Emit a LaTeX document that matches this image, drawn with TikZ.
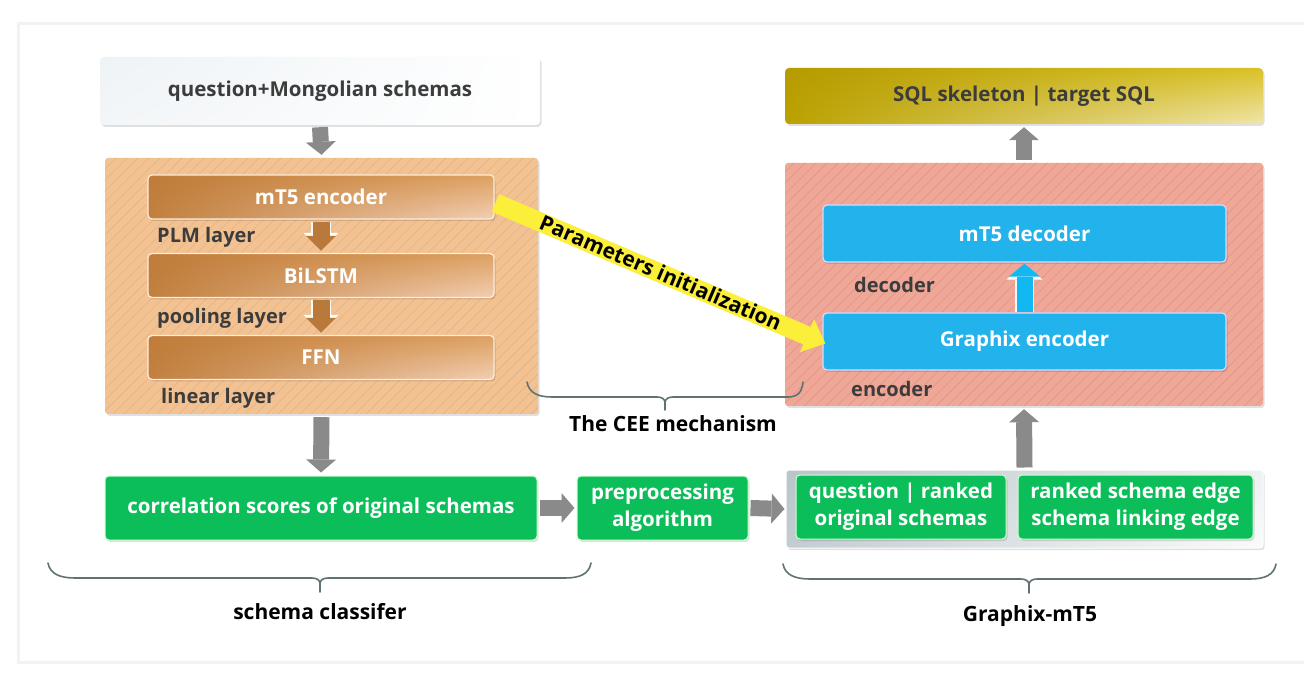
\documentclass[tikz,border=0pt]{standalone}
\usepackage{fontspec}
\setmainfont{Open Sans}
\usetikzlibrary{arrows.meta,shadows,shadings}
\definecolor{orangeC}{HTML}{F2C293}
\definecolor{orangeS}{HTML}{E7B27E}
\definecolor{salmonC}{HTML}{EFA797}
\definecolor{salmonS}{HTML}{E49686}
\definecolor{blueC}{HTML}{22B2EC}
\definecolor{blueA}{HTML}{12B8F2}
\definecolor{greenC}{HTML}{0BBE5A}
\definecolor{grayA}{HTML}{8A8A8A}
\definecolor{brownA}{HTML}{B8793A}
\definecolor{darkT}{HTML}{3C3C3C}
\definecolor{braceC}{HTML}{5F7373}
\definecolor{yelC}{HTML}{FCEF3A}
\definecolor{inUL}{HTML}{EEF3F6}
\definecolor{inLL}{HTML}{F3F6F8}
\definecolor{brUL}{HTML}{BF7B39}
\definecolor{brLL}{HTML}{C1803F}
\definecolor{brUR}{HTML}{DDA060}
\definecolor{brLR}{HTML}{F2CFB4}
\definecolor{sqUL}{HTML}{B59B00}
\definecolor{sqLL}{HTML}{BBA200}
\definecolor{sqUR}{HTML}{D9C125}
\definecolor{sqLR}{HTML}{F0E5AA}
\definecolor{gcUL}{HTML}{B9C5C9}
\definecolor{gcLL}{HTML}{C3CDD1}
\definecolor{gcUR}{HTML}{EEF1F2}
\definecolor{gcLR}{HTML}{FAFBFB}
\tikzset{
  boxfont/.style={font=\bfseries\fontsize{20.5}{27}\selectfont},
  capfont/.style={font=\bfseries\fontsize{21}{25}\selectfont},
  shad/.style={drop shadow={shadow xshift=1.5pt,shadow yshift=-2pt,opacity=0.12,fill=black}},
  basebox/.style={rectangle,rounded corners=4pt,inner sep=0pt,align=center,boxfont,shad},
  inbox/.style={basebox,shade,upper left=inUL,upper right=white,lower left=inLL,lower right=white,text=darkT,minimum width=440pt,minimum height=68pt},
  brownbox/.style={basebox,shade,upper left=brUL,lower left=brLL,upper right=brUR,lower right=brLR,draw=white!85!orange,line width=1.2pt,text=white,minimum width=346pt,minimum height=44pt},
  bluebox/.style={basebox,fill=blueC,draw=white!85!blue,line width=1.2pt,text=white,minimum width=403pt,minimum height=57pt},
  greenbox/.style={basebox,fill=greenC,draw=white!80!green,line width=1pt,text=white,minimum height=64pt},
  sqlbox/.style={basebox,shade,upper left=sqUL,lower left=sqLL,upper right=sqUR,lower right=sqLR,text=darkT,minimum width=478pt,minimum height=56pt},
  hatchbox/.style={rectangle,rounded corners=3pt,inner sep=0pt,shad,fill=#1C,
    path picture={\foreach \k in {0,11,...,800}{\draw[#1S,line width=0.7pt] ([xshift=\k pt-300pt]path picture bounding box.south west) -- ++(300pt,300pt);}}},
  graycont/.style={rectangle,rounded corners=3pt,inner sep=0pt,shad,shade,upper left=gcUL,lower left=gcLL,upper right=gcUR,lower right=gcLR,draw=white,line width=1pt},
  lbl/.style={font=\bfseries\fontsize{20}{24}\selectfont,text=darkT,inner sep=0pt,anchor=west},
  captxt/.style={capfont,text=black,inner sep=0pt},
  outl/.style n args={3}{preaction={draw=white,draw opacity=0.9,line width=#1,-{Triangle[width=#2,length=#3,line width=0pt]}}},
  grayarrow/.style={outl={19pt}{35pt}{16pt},draw=grayA,line width=16pt,-{Triangle[width=30pt,length=13pt,line width=0pt]}},
  brownarrow/.style={outl={20pt}{35pt}{18pt},draw=brownA,line width=17pt,-{Triangle[width=30pt,length=15pt,line width=0pt]}},
  bluearrow/.style={outl={19pt}{36pt}{16pt},draw=blueA,line width=16pt,-{Triangle[width=31pt,length=13pt,line width=0pt]}},
  yelarrow/.style={draw=yelC,line width=19pt,-{Triangle[width=36pt,length=20pt,line width=0pt]}},
  brace/.style={draw=braceC,line width=1.6pt,line cap=round}
}
\begin{document}
\begin{tikzpicture}[x=1pt,y=-1pt]
\useasboundingbox (0,0) rectangle (1304,684);
\fill[white] (0,0) rectangle (1304,684);
\draw[draw=black!5,line width=3pt,fill=white] (18,24) rectangle (1320,662);

% left column
\node[inbox] (inp) at (320,91) {question+Mongolian schemas};
\node[hatchbox=orange,minimum width=433pt,minimum height=256pt] (plm) at (321.5,286) {};
\node[brownbox] (enc) at (321,197) {mT5 encoder};
\node[brownbox] (bil) at (321,275.5) {BiLSTM};
\node[brownbox] (ffn) at (321,357.5) {FFN};
\node[lbl] (plml) at (157,237) {PLM layer};
\node[lbl] (pooll) at (157,318) {pooling layer};
\node[lbl] (linl) at (161,398) {linear layer};
\node[greenbox,minimum width=432pt] (corr) at (321,508) {correlation scores of original schemas};
\node[greenbox,minimum width=171pt] (prep) at (662.5,508) {preprocessing\\algorithm};

% right column
\node[sqlbox] (sql) at (1024,96) {SQL skeleton | target SQL};
\node[hatchbox=salmon,minimum width=478pt,minimum height=243pt] (gmt) at (1024,284.5) {};
\node[bluebox] (dec) at (1024.5,233.5) {mT5 decoder};
\node[bluebox] (genc) at (1024.5,341.5) {Graphix encoder};
\node[lbl] (decl) at (854,285) {decoder};
\node[lbl] (encl) at (851,389) {encoder};
\node[graycont,minimum width=477pt,minimum height=78pt] (gin) at (1024.5,509) {};
\node[greenbox,minimum width=210pt] (q1) at (901,507) {question | ranked\\original schemas};
\node[greenbox,minimum width=235pt] (q2) at (1135.5,507) {ranked schema edge\\schema linking edge};

% arrows
\draw[grayarrow] ([yshift=-2pt]inp.south) -- ([yshift=3pt]plm.north);
\draw[brownarrow] ([yshift=-2pt]enc.south) -- ([yshift=2pt]bil.north);
\draw[brownarrow] ([yshift=-2pt]bil.south) -- ([yshift=2pt]ffn.north);
\draw[grayarrow] ([yshift=-3pt]plm.south) -- ([yshift=3pt]corr.north);
\draw[grayarrow] ([xshift=2pt]corr.east) -- ([xshift=-2pt]prep.west);
\draw[grayarrow] ([xshift=2pt]prep.east) -- ([xshift=-1pt]gin.west);
\draw[grayarrow] ([yshift=2pt]gin.north) -- ([yshift=-3pt]gmt.south);
\draw[grayarrow] ([yshift=3pt]gmt.north) -- ([yshift=-3pt]sql.south);
\draw[bluearrow] (genc.north) -- ([yshift=-1pt]dec.south);

% parameters initialization
\draw[yelarrow] ([yshift=-6pt,xshift=1pt]enc.east) -- ([xshift=3pt,yshift=-2pt]genc.west)
  node[midway,sloped,capfont,text=black,yshift=1pt] (pinit) {Parameters initialization};

% braces
\draw[brace] (48,563) .. controls (50,574) and (60,578) .. (75,578) -- (312,578)
  .. controls (317,578) and (320,580) .. (320,584) -- (320,592);
\draw[brace] (320,584) .. controls (320,580) and (323,578) .. (328,578) -- (565,578)
  .. controls (580,578) and (589,574) .. (591,563);
\node[captxt] (cls) at (320,612) {schema classifer};

\draw[brace] (783,564) .. controls (785,575) and (795,579) .. (810,579) -- (1021,579)
  .. controls (1026,579) and (1029,581) .. (1029,585) -- (1029,593);
\draw[brace] (1029,585) .. controls (1029,581) and (1032,579) .. (1037,579) -- (1250,579)
  .. controls (1265,579) and (1274,575) .. (1276,564);
\node[captxt] (gm5) at (1030,616) {Graphix-mT5};

\draw[brace] (527,382) .. controls (529,393) and (538,397) .. (552,397) -- (657,397)
  .. controls (662,397) and (665,399) .. (665,403) -- (665,410);
\draw[brace] (665,403) .. controls (665,399) and (668,397) .. (673,397) -- (788,397)
  .. controls (798,397) and (802,392) .. (803,382);
\node[captxt] (cee) at (673,424) {The CEE mechanism};
\end{tikzpicture}
\end{document}
